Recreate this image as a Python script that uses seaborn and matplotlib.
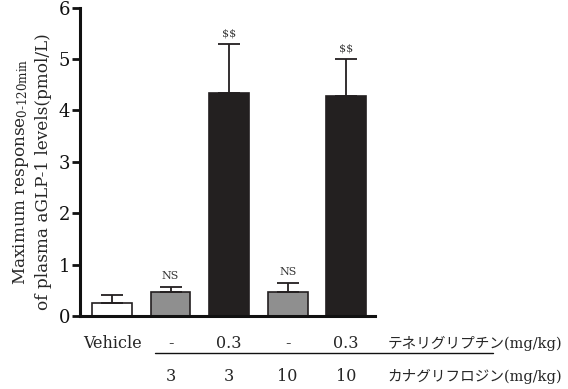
import matplotlib
matplotlib.use("Agg")
import matplotlib.pyplot as plt
import seaborn as sns
import pandas as pd
import numpy as np

# Groups and measured values
groups = ["G1", "G2", "G3", "G4", "G5"]
means = [0.25, 0.46, 4.34, 0.46, 4.29]
sem = [0.15, 0.11, 0.96, 0.18, 0.71]
sig_labels = ["", "NS", "$$", "NS", "$$"]
teneli_doses = ["Vehicle", "-", "0.3", "-", "0.3"]
cana_doses = ["", "3", "3", "10", "10"]
teneli_name = "テネリグリプチン(mg/kg)"
cana_name = "カナグリフロジン(mg/kg)"
bar_colors = ["#ffffff", "#8f8f8f", "#231f20", "#8f8f8f", "#231f20"]

sns.set_theme(style="white")
plt.rcParams["font.family"] = ["DejaVu Serif", "Noto Sans CJK JP"]
plt.rcParams["mathtext.fontset"] = "dejavuserif"

fig = plt.figure(figsize=(5.68, 3.89), dpi=100)
ax = fig.add_axes([0.141, 0.188, 0.519, 0.792])

df = pd.DataFrame({"group": groups, "value": means})
sns.barplot(data=df, x="group", y="value", hue="group", palette=bar_colors,
            legend=False, errorbar=None, width=0.68, edgecolor="#231f20",
            linewidth=1.2, ax=ax)

xs = np.arange(len(groups))
zeros = np.zeros(len(groups))
ax.errorbar(xs, means, yerr=[zeros, sem], fmt="none", ecolor="#231f20",
            elinewidth=1.3, capsize=8, capthick=1.3, zorder=1)

for x, m, e, lab in zip(xs, means, sem, sig_labels):
    if lab:
        ax.annotate(lab, (x, m + e), xytext=(0, 4), textcoords="offset points",
                    ha="center", va="bottom", fontsize=8, color="#333333",
                    parse_math=False)

ax.set_xlim(-0.546, 4.49)
ax.set_ylim(0, 6)
ax.set_yticks(range(0, 7))
ax.set_xticks([])
ax.set_xlabel("")
ax.set_ylabel("Maximum response$_{\\mathregular{0‑120min}}$\nof plasma aGLP-1 levels(pmol/L)",
              fontsize=12.2, linespacing=1.35)
ax.yaxis.set_label_coords(-0.095, 0.468)

for side in ["top", "right"]:
    ax.spines[side].set_visible(False)
for side in ["left", "bottom"]:
    ax.spines[side].set_linewidth(2.2)
    ax.spines[side].set_color("#111111")
ax.tick_params(axis="y", left=True, direction="out", length=6, width=2,
               labelsize=13, pad=1, colors="#111111")

trans = ax.get_xaxis_transform()
for x, t in zip(xs, teneli_doses):
    ax.text(x, -0.091, t, transform=trans, ha="center", va="center",
            fontsize=11.5, clip_on=False)
for x, t in zip(xs, cana_doses):
    if t:
        ax.text(x, -0.198, t, transform=trans, ha="center", va="center",
                fontsize=11.5, clip_on=False)
ax.text(4.71, -0.091, teneli_name, transform=trans, ha="left", va="center",
        fontsize=10.5, clip_on=False)
ax.text(4.71, -0.198, cana_name, transform=trans, ha="left", va="center",
        fontsize=10.5, clip_on=False)
ax.plot([0.734, 6.5], [-0.120, -0.120], transform=trans, color="#111111",
        linewidth=1.0, clip_on=False)

fig.savefig("out.png", dpi=100)
